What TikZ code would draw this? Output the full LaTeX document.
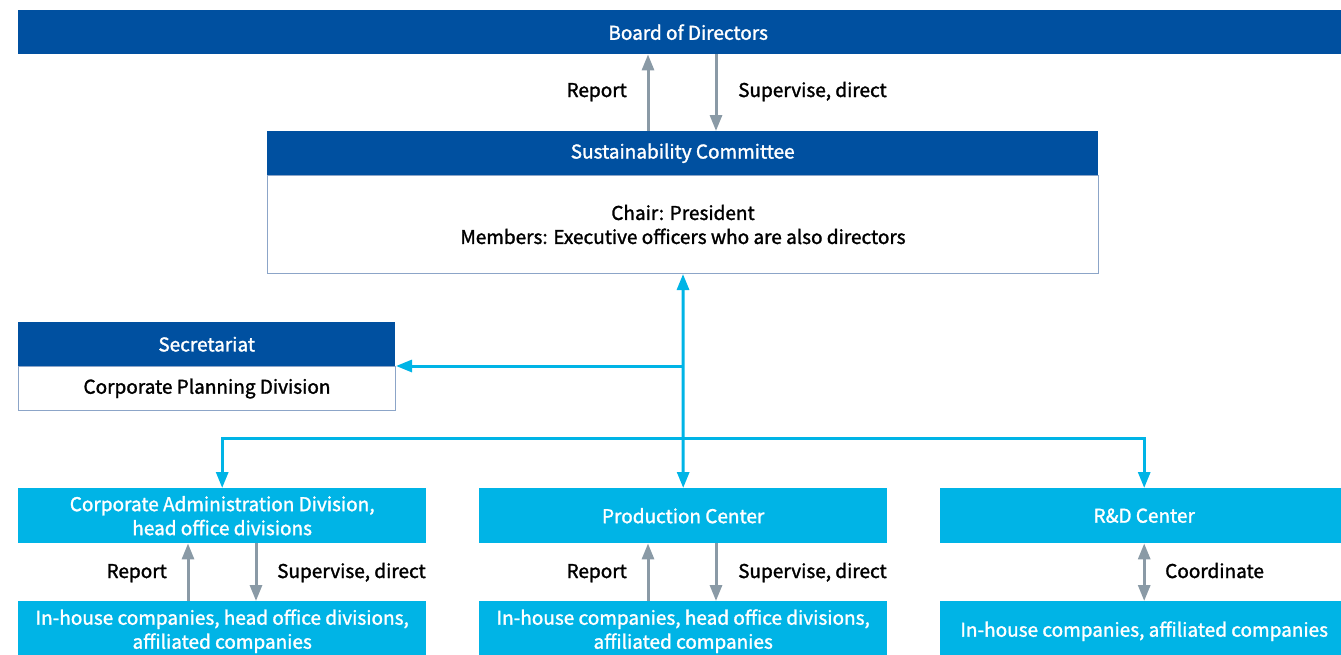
\documentclass[tikz,border=0pt]{standalone}
\usepackage{fontspec}
\setmainfont{Noto Sans CJK JP}[RawFeature={embolden=1.5}]
\usetikzlibrary{arrows.meta,calc}
\definecolor{dblue}{RGB}{0,80,160}
\definecolor{cyanb}{RGB}{0,180,230}
\definecolor{garr}{RGB}{138,154,166}
\definecolor{bord}{RGB}{140,165,200}
\begin{document}
\begin{tikzpicture}[x=1pt,y=-1pt,
  font=\fontsize{19}{24}\selectfont,
  hdr/.style={fill=dblue,text=white,minimum height=44pt,inner sep=0pt,anchor=north west,align=center},
  bodybox/.style={draw=bord,line width=1pt,fill=white,inner sep=0pt,anchor=north west,align=center},
  cbox/.style={fill=cyanb,text=white,minimum width=408pt,inner sep=0pt,anchor=north west,align=center},
  lbl/.style={text=black,inner sep=0pt},
  garrow/.style={draw=garr,line width=3pt,-{Triangle[width=12pt,length=16pt]}},
  gdbl/.style={draw=garr,line width=3pt,{Triangle[width=12pt,length=16pt]}-{Triangle[width=12pt,length=16pt]}},
  carrow/.style={draw=cyanb,line width=3pt,-{Triangle[width=12pt,length=16pt]}},
  cdbl/.style={draw=cyanb,line width=3pt,{Triangle[width=12pt,length=16pt]}-{Triangle[width=12pt,length=16pt]}}
]
\useasboundingbox (0,0) rectangle (1341,654);
\clip (0,0) rectangle (1341,654);

% Board
\node[hdr,minimum width=1340pt] (board) at (18,10) {Board of Directors};

% Sustainability committee
\node[hdr,minimum width=831pt] (sc) at (267,131) {Sustainability Committee};
\node[bodybox,minimum width=831pt,minimum height=98pt] (scbody) at (267,175)
  {Chair: President\\Members: Executive officers who are also directors};

% Secretariat
\node[hdr,minimum width=377pt] (sec) at (18,322) {Secretariat};
\node[bodybox,minimum width=377pt,minimum height=44pt] (secbody) at (18,366)
  {Corporate Planning Division};

% Second row
\node[cbox,minimum height=55pt] (cad) at (18,488) {Corporate Administration Division,\\head office divisions};
\node[cbox,minimum height=55pt] (prod) at (479,488) {Production Center};
\node[cbox,minimum height=55pt] (rd) at (940,488) {R\&D Center};

% Third row
\node[cbox,minimum height=60pt] (cadsub) at (18,601) {In-house companies, head office divisions,\\affiliated companies};
\node[cbox,minimum height=60pt] (prodsub) at (479,601) {In-house companies, head office divisions,\\affiliated companies};
\node[cbox,minimum height=60pt] (rdsub) at (940,601) {In-house companies, affiliated companies};

% Coordinates for arrow columns
\coordinate (xa) at (648,0);
\coordinate (xb) at (716,0);
\coordinate (xc) at (188,0);
\coordinate (xd) at (256,0);
\coordinate (j1) at (683,366);
\coordinate (j2) at (683,438);

% Board <-> committee
\draw[garrow] (sc.north -| xa) -- (board.south -| xa);
\draw[garrow] (board.south -| xb) -- (sc.north -| xb);
\node[lbl,anchor=base east] (l1) at (627,97) {Report};
\node[lbl,anchor=base west] (l2) at (738,97) {Supervise, direct};

% Cyan connectors
\draw[cdbl] (scbody.south) -- (prod.north);
\draw[carrow] (j1) -- (secbody.north east);
\draw[carrow] (j2) -| (cad.north);
\draw[carrow] (j2) -| (rd.north);

% Corporate admin arrows
\draw[garrow] (cadsub.north -| xc) -- (cad.south -| xc);
\draw[garrow] (cad.south -| xd) -- (cadsub.north -| xd);
\node[lbl,anchor=base east] (l3) at (167,578) {Report};
\node[lbl,anchor=base west] (l4) at (277,578) {Supervise, direct};

% Production arrows
\draw[garrow] (prodsub.north -| xa) -- (prod.south -| xa);
\draw[garrow] (prod.south -| xb) -- (prodsub.north -| xb);
\node[lbl,anchor=base east] (l5) at (627,578) {Report};
\node[lbl,anchor=base west] (l6) at (738,578) {Supervise, direct};

% R&D arrow
\draw[gdbl] (rd.south) -- (rdsub.north);
\node[lbl,anchor=base west] (l7) at (1165,578) {Coordinate};
\end{tikzpicture}
\end{document}
